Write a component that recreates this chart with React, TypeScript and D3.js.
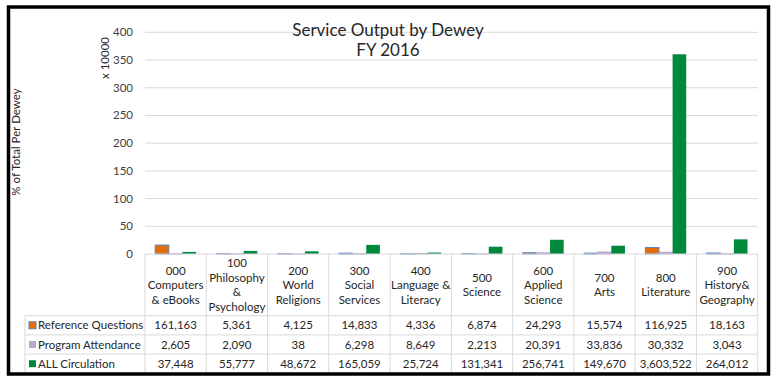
import React from "react";
import * as d3 from "d3";

const categories = ["000", "100", "200", "300", "400", "500", "600", "700", "800", "900"];
const categoryLabels: string[][] = [
  ["000", "Computers", "& eBooks"],
  ["100", "Philosophy", "&", "Psychology"],
  ["200", "World", "Religions"],
  ["300", "Social", "Services"],
  ["400", "Language &", "Literacy"],
  ["500", "Science"],
  ["600", "Applied", "Science"],
  ["700", "Arts"],
  ["800", "Literature"],
  ["900", "History&", "Geography"],
];
const seriesNames = ["Reference Questions", "Program Attendance", "ALL Circulation"];
const referenceQuestions = [161163, 5361, 4125, 14833, 4336, 6874, 24293, 15574, 116925, 18163];
const programAttendance = [2605, 2090, 38, 6298, 8649, 2213, 20391, 33836, 30332, 3043];
const allCirculation = [37448, 55777, 48672, 165059, 25724, 131341, 256741, 149670, 3603522, 264012];
const yTicks = [0, 50, 100, 150, 200, 250, 300, 350, 400];
const displayUnit = 10000;

const seriesValues = [referenceQuestions, programAttendance, allCirculation];
const fills = ["#E46C0A", "#B7A7D3", "#00883D"];
const strokes = ["#5A86C0", "#A99BCB", "#00883D"];

const FONT = "Lato, 'Open Sans', sans-serif";

export default function App() {
  const W = 774, H = 381;
  const left = 145, right = 757.7, top = 32.3, zeroY = 254;
  const x = d3.scaleBand<string>().domain(categories).range([left, right]).paddingInner(0).paddingOuter(0);
  const bw = x.bandwidth();
  const inner = d3.scaleBand<number>().domain([0, 1, 2]).range([0, bw]).paddingInner(0).paddingOuter(0.75);
  const y = d3.scaleLinear().domain([0, 400]).range([zeroY, top]);
  const fmt = d3.format(",");

  const headerBottom = 315.7;
  const rowH = 19.2;
  const legendLeft = 25;
  const tableBottom = headerBottom + rowH * 3;
  const grid = "#D9D9D9";

  return (
    <svg width={W} height={H} style={{ position: "absolute", left: 0, top: 0, background: "#fff" }}
      fontFamily={FONT}>
      <rect x={0} y={0} width={W} height={H} fill="#fff" />
      {/* gridlines */}
      {yTicks.map((t) => (
        <g key={t}>
          {t !== 0 && <line x1={left} x2={right} y1={y(t)} y2={y(t)} stroke={grid} strokeWidth={1} />}
          <text x={133} y={y(t)} dy="0.35em" textAnchor="end" fontSize={11.5} fill="#404040">{t}</text>
        </g>
      ))}
      {/* bars */}
      {categories.map((c, i) => (
        <g key={c}>
          {seriesValues.map((vals, s) => {
            const v = vals[i] / displayUnit;
            const h = Math.max(zeroY - y(v), 0);
            return (
              <rect key={s} x={(x(c) as number) + (inner(s) as number)} y={zeroY - h}
                width={inner.bandwidth()} height={h}
                fill={fills[s]} stroke={strokes[s]} strokeWidth={s === 2 ? 0 : 1} />
            );
          })}
        </g>
      ))}
      {/* table */}
      <line x1={left} x2={right} y1={zeroY} y2={zeroY} stroke={grid} />
      {[0, 1, 2].map((r) => (
        <line key={r} x1={legendLeft} x2={right} y1={headerBottom + r * rowH} y2={headerBottom + r * rowH} stroke={grid} />
      ))}
      <line x1={legendLeft} x2={legendLeft} y1={headerBottom} y2={tableBottom} stroke={grid} />
      {categories.map((c) => (
        <line key={c} x1={x(c) as number} x2={x(c) as number} y1={zeroY} y2={tableBottom} stroke={grid} />
      ))}
      <line x1={right} x2={right} y1={zeroY} y2={tableBottom} stroke={grid} />
      {categories.map((c, i) => {
        const lines = categoryLabels[i];
        const lh = 14.5;
        const cy = 285;
        const y0 = cy - ((lines.length - 1) * lh) / 2;
        return (
          <text key={c} x={(x(c) as number) + bw / 2} textAnchor="middle" fontSize={11.5} fill="#262626">
            {lines.map((l, k) => (
              <tspan key={k} x={(x(c) as number) + bw / 2} y={y0 + k * lh} dy="0.35em">{l}</tspan>
            ))}
          </text>
        );
      })}
      {seriesNames.map((n, s) => {
        const cy = headerBottom + rowH * s + rowH / 2;
        return (
          <g key={n}>
            <rect x={29} y={cy - 3.5} width={7} height={7} fill={fills[s]} stroke={strokes[s]} strokeWidth={s === 0 ? 1 : 0} />
            <text x={38} y={cy} dy="0.35em" fontSize={11.5} fill="#262626">{n}</text>
            {categories.map((c, i) => (
              <text key={c} x={(x(c) as number) + bw / 2} y={cy} dy="0.35em" textAnchor="middle" fontSize={11.5} fill="#262626">
                {fmt(seriesValues[s][i])}
              </text>
            ))}
          </g>
        );
      })}
      {/* axis titles */}
      <text transform="translate(20,142) rotate(-90)" textAnchor="middle" fontSize={11.5} fill="#262626">% of Total Per Dewey</text>
      <text transform="translate(105,58) rotate(-90)" textAnchor="middle" dy="0.35em" fontSize={11.5} fill="#262626">x 10000</text>
      {/* title */}
      <text x={388} y={30} dy="0.35em" textAnchor="middle" fontSize={17} fill="#262626">Service Output by Dewey</text>
      <text x={388} y={50} dy="0.35em" textAnchor="middle" fontSize={17} fill="#262626">FY 2016</text>
      {/* frame */}
      <rect x={8.5} y={7} width={760} height={367} fill="none" stroke="#000" strokeWidth={3.5} />
    </svg>
  );
}
